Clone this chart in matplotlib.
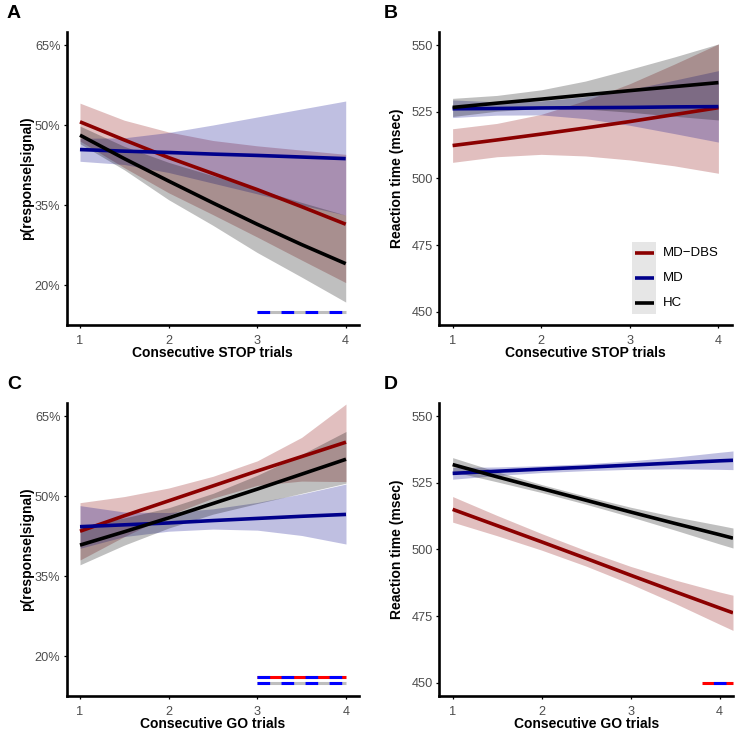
import matplotlib
matplotlib.use('Agg')
import matplotlib.pyplot as plt
from matplotlib.patches import Rectangle

plt.rcParams['font.family'] = ['Liberation Sans', 'DejaVu Sans']
plt.rcParams['lines.scale_dashes'] = False

# ---------------- data ----------------
groups = ['MD-DBS', 'MD', 'HC']
group_colors = ['#8B0000', '#00008B', '#000000']

x_trials = [1, 1.5, 2, 2.5, 3, 3.5, 4]
x_trials_d = [1, 1.5, 2, 2.5, 3, 3.5, 4, 4.15]

# Panel A: p(response|signal) vs consecutive STOP trials (percent)
a_dbs = [50.6, 47.2, 43.9, 40.9, 37.9, 34.7, 31.4]
a_dbs_lo = [47.0, 42.0, 37.3, 33.2, 29.0, 24.7, 20.45]
a_dbs_hi = [54.1, 50.9, 48.7, 47.1, 46.1, 45.3, 44.5]
a_md = [45.4, 45.1, 44.85, 44.55, 44.3, 44.0, 43.7]
a_md_lo = [43.2, 42.6, 41.1, 39.1, 37.1, 35.0, 33.1]
a_md_hi = [47.5, 47.6, 48.6, 50.0, 51.5, 53.0, 54.5]
a_hc = [48.1, 43.7, 39.5, 35.4, 31.4, 27.6, 24.0]
a_hc_lo = [46.5, 41.6, 36.0, 31.2, 26.1, 21.5, 16.8]
a_hc_hi = [49.8, 46.0, 43.0, 40.5, 38.0, 35.5, 33.1]

# Panel B: reaction time vs consecutive STOP trials (msec)
b_dbs = [512.3, 514.4, 516.6, 518.9, 521.3, 523.9, 526.5]
b_dbs_lo = [506.0, 508.1, 509.0, 508.4, 506.9, 504.7, 501.9]
b_dbs_hi = [518.6, 520.6, 524.0, 529.2, 535.5, 542.8, 550.4]
b_md = [526.1, 526.2, 526.4, 526.5, 526.6, 526.8, 526.9]
b_md_lo = [522.8, 523.7, 523.8, 522.4, 519.9, 516.8, 513.6]
b_md_hi = [529.4, 528.7, 529.0, 530.6, 533.3, 536.8, 540.4]
b_hc = [526.6, 528.2, 529.7, 531.3, 532.9, 534.4, 535.9]
b_hc_lo = [523.2, 525.2, 526.2, 526.0, 524.8, 523.3, 521.9]
b_hc_hi = [530.0, 531.1, 533.2, 536.5, 540.9, 545.5, 550.4]

# Panel C: p(response|signal) vs consecutive GO trials (percent)
c_dbs = [43.4, 46.3, 49.1, 51.9, 54.7, 57.4, 60.1]
c_dbs_lo = [38.0, 42.4, 46.4, 49.6, 52.0, 52.8, 52.7]
c_dbs_hi = [48.75, 49.9, 51.5, 53.7, 56.6, 61.0, 67.25]
c_md = [44.25, 44.6, 44.95, 45.4, 45.8, 46.2, 46.55]
c_md_lo = [40.2, 42.4, 43.4, 43.8, 43.6, 42.6, 41.0]
c_md_hi = [48.2, 47.0, 46.9, 47.6, 48.8, 50.4, 52.25]
c_hc = [40.8, 43.3, 45.9, 48.6, 51.3, 54.1, 56.9]
c_hc_lo = [37.1, 40.8, 44.0, 46.6, 48.6, 50.5, 52.4]
c_hc_hi = [44.3, 45.9, 47.8, 50.5, 53.9, 57.8, 62.1]

# Panel D: reaction time vs consecutive GO trials (msec)
d_dbs = [515.0, 508.9, 502.8, 496.6, 490.3, 484.1, 478.0, 476.2]
d_dbs_lo = [510.2, 505.1, 499.7, 493.7, 487.0, 479.7, 471.9, 469.6]
d_dbs_hi = [519.8, 512.7, 505.9, 499.5, 493.6, 488.5, 484.0, 482.8]
d_md = [528.5, 529.3, 530.1, 530.8, 531.6, 532.4, 533.2, 533.4]
d_md_lo = [526.3, 527.7, 528.8, 529.5, 530.0, 530.2, 530.0, 529.9]
d_md_hi = [530.7, 530.9, 531.4, 532.1, 533.2, 534.6, 536.4, 536.9]
d_hc = [531.8, 527.2, 522.8, 518.4, 514.0, 509.7, 505.5, 504.2]
d_hc_lo = [529.2, 525.3, 521.3, 516.9, 512.2, 507.2, 502.0, 500.5]
d_hc_hi = [534.4, 529.1, 524.3, 519.9, 515.8, 512.2, 509.0, 508.0]

# significance bars: (x range, y, base colour)
sig_a = [([3, 4], 15.0, '#BEBEBE')]
sig_c = [([3, 4], 16.0, '#FF0000'), ([3, 4], 14.9, '#BEBEBE')]
sig_d = [([3.8, 4.15], 450.0, '#FF0000')]

pct_ticks = [20, 35, 50, 65]
pct_labels = ['20%', '35%', '50%', '65%']
rt_ticks = [450, 475, 500, 525, 550]
x_ticks = [1, 2, 3, 4]

# ---------------- figure ----------------
W, H = 749, 741
fig = plt.figure(figsize=(W / 100, H / 100), dpi=100)


def add_ax(l, t, r, b):
    return fig.add_axes([l / W, 1 - b / H, (r - l) / W, (b - t) / H])


axA = add_ax(66.7, 31.7, 359, 325)
axB = add_ax(439.3, 31.7, 731.7, 325)
axC = add_ax(66.7, 402.7, 359.3, 696)
axD = add_ax(439.3, 402.7, 733, 696)


def style(ax):
    for s in ['top', 'right']:
        ax.spines[s].set_visible(False)
    for s in ['left', 'bottom']:
        ax.spines[s].set_linewidth(1.9)
    ax.tick_params(direction='out', length=2.5, width=0.9, colors='black',
                   labelcolor='#4D4D4D', labelsize=9.2, pad=2)
    ax.tick_params(axis='x', pad=4.5)
    ax.set_xlim(0.85, 4.15)
    ax.set_xticks(x_ticks)


def draw_groups(ax, x, series):
    for (line, lo, hi), col in zip(series, group_colors):
        ax.fill_between(x, lo, hi, color=col, alpha=0.25, linewidth=0)
        ax.plot(x, line, color=col, lw=2.6, solid_capstyle='butt')


def draw_sig(ax, sigs, offset=0):
    for xr, y, base in sigs:
        ax.plot(xr, [y, y], color=base, lw=2.2, solid_capstyle='butt', clip_on=False)
        ax.plot(xr, [y, y], color='#0000FF', lw=2.2,
                linestyle=(offset, (9.1, 8.2)), dash_capstyle='butt', clip_on=False)


draw_groups(axA, x_trials, [(a_dbs, a_dbs_lo, a_dbs_hi), (a_md, a_md_lo, a_md_hi),
                            (a_hc, a_hc_lo, a_hc_hi)])
draw_groups(axB, x_trials, [(b_dbs, b_dbs_lo, b_dbs_hi), (b_md, b_md_lo, b_md_hi),
                            (b_hc, b_hc_lo, b_hc_hi)])
draw_groups(axC, x_trials, [(c_dbs, c_dbs_lo, c_dbs_hi), (c_md, c_md_lo, c_md_hi),
                            (c_hc, c_hc_lo, c_hc_hi)])
draw_groups(axD, x_trials_d, [(d_dbs, d_dbs_lo, d_dbs_hi), (d_md, d_md_lo, d_md_hi),
                              (d_hc, d_hc_lo, d_hc_hi)])

draw_sig(axA, sig_a)
draw_sig(axC, sig_c)
draw_sig(axD, sig_d, offset=9.1)

for ax in [axA, axB, axC, axD]:
    style(ax)

for ax in [axA, axC]:
    ax.set_ylim(12.5, 67.5)
    ax.set_yticks(pct_ticks)
    ax.set_yticklabels(pct_labels)
    ax.set_ylabel('p(response|signal)', fontsize=10, fontweight='bold', va='center')
    ax.yaxis.set_label_coords(-0.137, 0.5)
for ax in [axB, axD]:
    ax.set_ylim(445, 555)
    ax.set_yticks(rt_ticks)
    ax.set_ylabel('Reaction time (msec)', fontsize=10, fontweight='bold', va='center')
    ax.yaxis.set_label_coords(-0.143, 0.5)

for ax, lab in [(axA, 'Consecutive STOP trials'), (axB, 'Consecutive STOP trials'),
                (axC, 'Consecutive GO trials'), (axD, 'Consecutive GO trials')]:
    ax.set_xlabel(lab, fontsize=10, fontweight='bold', va='center')
    ax.xaxis.set_label_coords(0.5, -0.096)

# legend in panel B (manual, ggplot-like grey key background)
axB.add_patch(Rectangle((0.658, 0.0375), 0.083, 0.2465, transform=axB.transAxes,
                        facecolor='#E6E6E6', edgecolor='none', zorder=5))
leg_y = [0.2445, 0.161, 0.076]
for g, col, yy in zip(groups, group_colors, leg_y):
    axB.plot([0.669, 0.734], [yy, yy], transform=axB.transAxes, color=col, lw=2.6,
             solid_capstyle='butt', zorder=6)
    axB.text(0.766, yy, g.replace('-', '\u2212'), transform=axB.transAxes, fontsize=9.5,
             va='center', ha='left', zorder=6)

# panel letters
for lab, px, py in [('A', 7, 5), ('B', 384, 5), ('C', 7, 376), ('D', 384, 376)]:
    fig.text(px / W, 1 - py / H, lab, fontsize=14, fontweight='bold', ha='left', va='top')

fig.savefig('out.png', dpi=100)
